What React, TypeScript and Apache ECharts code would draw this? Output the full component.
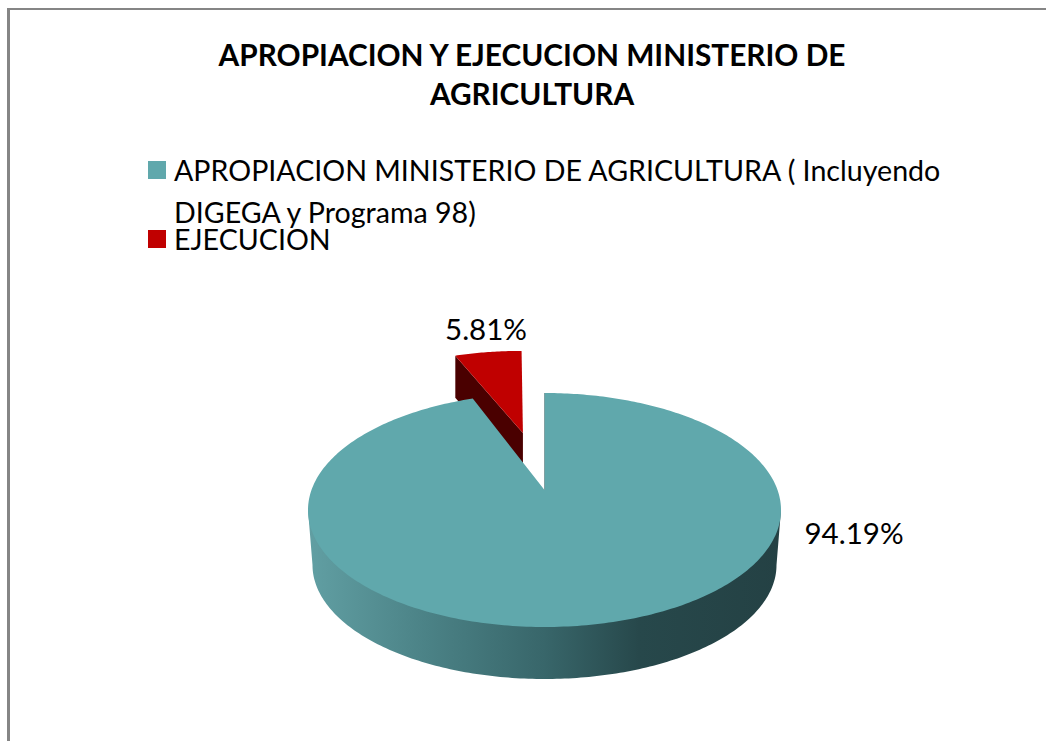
import React, { useEffect, useRef } from "react";
import * as echarts from "echarts";

const titleLines = ["APROPIACION Y EJECUCION MINISTERIO DE", "AGRICULTURA"];
const sliceNames = [
  "APROPIACION MINISTERIO DE AGRICULTURA ( Incluyendo DIGEGA y Programa 98)",
  "EJECUCION",
];
const legendLines = ["APROPIACION MINISTERIO DE AGRICULTURA ( Incluyendo", "DIGEGA y Programa 98)"];
const sliceValues = [94.19, 5.81];
const sliceColors = ["#60A8AC", "#C00000"];
const FONT = "Lato";

// geometry of the tilted disc
const CX = 544.5, CY = 510, RX = 236.5, RY = 117, PERSPECTIVE = 0.171;
const LOW_CY = 565, LOW_RX = 232, LOW_RY = 114;
const EXPLODE = 0.558, SHEAR = 0.052, RED_DEPTH = 42;

const scale = Math.sqrt(1 - PERSPECTIVE * PERSPECTIVE);
const project = (u: number, v: number): [number, number] => {
  const w = 1 + PERSPECTIVE * v;
  return [CX + (RX * scale * u) / w, CY - (RY * (v + PERSPECTIVE)) / w];
};
const sweepOf = (value: number) => (value / 100) * Math.PI * 2;

function renderTeal(_: any, api: any) {
  const sweep = sweepOf(api.value(0));
  const apex = project(0, 0);
  const top: [number, number][] = [apex];
  for (let i = 0; i <= 360; i++) {
    const t = (sweep * i) / 360;
    top.push(project(Math.sin(t), Math.cos(t)));
  }
  const wall: [number, number][] = [];
  for (let i = 0; i <= 180; i++) {
    const t = Math.PI - (Math.PI * i) / 180;
    wall.push([CX + LOW_RX * Math.cos(t), LOW_CY + LOW_RY * Math.sin(t)]);
  }
  wall.push([CX + RX, CY], [CX - RX, CY]);
  const first = project(0, 1);
  return {
    type: "group",
    children: [
      {
        type: "polygon",
        shape: { points: wall },
        style: {
          fill: new echarts.graphic.LinearGradient(0, 0, 1, 0, [
            { offset: 0, color: "#619FA3" },
            { offset: 0.25, color: "#4B8286" },
            { offset: 0.5, color: "#38666A" },
            { offset: 0.7, color: "#27484B" },
            { offset: 1, color: "#244144" },
          ]),
        },
      },
      { type: "polygon", shape: { points: top }, style: { fill: sliceColors[0] } },
      {
        type: "line",
        shape: { x1: apex[0], y1: apex[1], x2: first[0], y2: first[1] },
        style: { stroke: "#7FA0A2", lineWidth: 1 },
      },
      {
        type: "text",
        x: 854,
        y: 532,
        style: {
          text: api.value(0).toFixed(2) + "%",
          font: `29.5px ${FONT}`,
          fill: "#000",
          align: "center",
          verticalAlign: "middle",
        },
      },
    ],
  };
}

function renderRed(_: any, api: any) {
  const sweep = sweepOf(api.value(0));
  const mid = -sweep / 2;
  const u0 = EXPLODE * Math.sin(mid), v0 = EXPLODE * Math.cos(mid);
  const apexRaw = project(u0, v0);
  const place = (t: number, r: number): [number, number] => {
    const p = project(u0 + r * Math.sin(t), v0 + r * Math.cos(t));
    return [p[0] - SHEAR * (apexRaw[1] - p[1]), p[1]];
  };
  const apex = place(0, 0);
  const top: [number, number][] = [apex];
  for (let i = 0; i <= 30; i++) top.push(place(-sweep * (1 - i / 30), 1));
  const left = place(-sweep, 1);
  return {
    type: "group",
    children: [
      {
        type: "polygon",
        shape: {
          points: [
            left,
            apex,
            [apex[0], apex[1] + RED_DEPTH],
            [left[0], left[1] + RED_DEPTH],
          ],
        },
        style: { fill: "#4A0000" },
      },
      { type: "polygon", shape: { points: top }, style: { fill: sliceColors[1] } },
      {
        type: "text",
        x: 486,
        y: 328,
        style: {
          text: api.value(0).toFixed(2) + "%",
          font: `29.5px ${FONT}`,
          fill: "#000",
          align: "center",
          verticalAlign: "middle",
        },
      },
    ],
  };
}

export default function App() {
  const ref = useRef<HTMLDivElement>(null);
  useEffect(() => {
    document.body.style.margin = "0";
    const chart = echarts.init(ref.current!, null, { renderer: "svg" });
    const legendBase = {
      orient: "vertical",
      left: 148,
      padding: 0,
      itemWidth: 18,
      itemHeight: 18,
      selectedMode: false,
    };
    chart.setOption({
      animation: false,
      backgroundColor: "#fff",
      title: {
        text: titleLines.join("\n"),
        left: 527,
        top: 30,
        textAlign: "center",
        textStyle: {
          fontFamily: FONT,
          fontSize: 29.8,
          fontWeight: "bold",
          color: "#000",
          lineHeight: 39,
        },
      },
      legend: [
        {
          ...legendBase,
          top: 107,
          data: [{ name: sliceNames[0], icon: "rect", itemStyle: { color: sliceColors[0] } }],
          formatter: () => "\n" + legendLines.join("\n"),
          textStyle: { fontFamily: FONT, fontSize: 28.6, color: "#000", lineHeight: 42, padding: [0, 0, 0, 3] },
        },
        {
          ...legendBase,
          top: 224,
          data: [{ name: sliceNames[1], icon: "rect", itemStyle: { color: sliceColors[1] } }],
          textStyle: { fontFamily: FONT, fontSize: 28.6, color: "#000", lineHeight: 30, padding: [0, 0, 0, 3] },
        },
      ],
      graphic: [
        { type: "rect", shape: { x: 7, y: 8, width: 1039, height: 2 }, style: { fill: "#858585" } },
        { type: "rect", shape: { x: 7, y: 8, width: 3, height: 733 }, style: { fill: "#858585" } },
      ],
      series: [
        {
          type: "custom",
          name: sliceNames[1],
          coordinateSystem: "none",
          data: [[sliceValues[1]]],
          renderItem: renderRed,
          itemStyle: { color: sliceColors[1] },
        },
        {
          type: "custom",
          name: sliceNames[0],
          coordinateSystem: "none",
          data: [[sliceValues[0]]],
          renderItem: renderTeal,
          itemStyle: { color: sliceColors[0] },
        },
      ],
    });
    return () => chart.dispose();
  }, []);
  return (
    <div
      ref={ref}
      style={{ position: "fixed", left: 0, top: 0, width: 1046, height: 741 }}
    />
  );
}
